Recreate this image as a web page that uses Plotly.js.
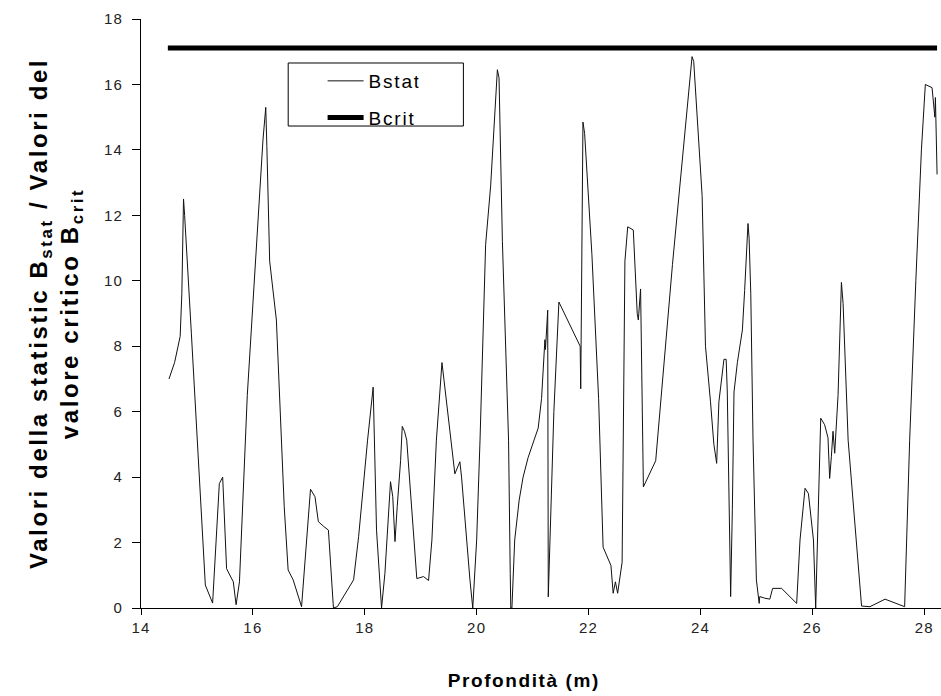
<!DOCTYPE html>
<html>
<head>
<meta charset="utf-8">
<script src="https://cdn.plot.ly/plotly-3.0.1.min.js"></script>
<style>
html,body{margin:0;padding:0;background:#fff;}
#chart{width:941px;height:696px;}
#chart .ytitle{letter-spacing:2.6px;}
#chart .xtitle{letter-spacing:1.6px;}
#chart .xtick text, #chart .ytick text{letter-spacing:1.2px;}
#chart .legendtext{letter-spacing:1.8px;}
</style>
</head>
<body>
<div id="chart"></div>
<script>
// Depth (m) for Bstat series
const depth = [14.50,14.60,14.70,14.73,14.76,14.78,14.90,15.06,15.15,15.28,15.40,15.46,15.53,15.65,15.70,15.76,15.90,16.18,16.23,16.25,16.30,16.42,16.51,16.56,16.63,16.72,16.87,17.03,17.11,17.17,17.26,17.35,17.44,17.51,17.80,17.87,17.89,18.05,18.15,18.21,18.30,18.36,18.44,18.46,18.50,18.54,18.58,18.64,18.67,18.71,18.75,18.93,19.05,19.14,19.20,19.28,19.38,19.47,19.55,19.61,19.70,19.73,19.88,19.93,20.00,20.06,20.16,20.25,20.37,20.40,20.46,20.57,20.60,20.61,20.63,20.68,20.76,20.83,20.92,21.10,21.16,21.22,21.23,21.27,21.28,21.38,21.47,21.85,21.86,21.90,21.93,22.06,22.18,22.26,22.40,22.44,22.48,22.52,22.60,22.65,22.70,22.80,22.87,22.89,22.93,22.98,23.20,23.50,23.85,23.88,24.03,24.09,24.18,24.24,24.29,24.33,24.42,24.46,24.48,24.54,24.57,24.60,24.66,24.75,24.79,24.85,24.87,24.90,24.94,25.00,25.05,25.06,25.15,25.24,25.29,25.45,25.72,25.78,25.87,25.93,26.02,26.06,26.15,26.22,26.28,26.31,26.34,26.37,26.40,26.46,26.52,26.55,26.64,26.88,27.03,27.30,27.65,27.74,27.85,27.95,28.02,28.14,28.19,28.20,28.23];
// Bstat values
const bstat = [7.0,7.5,8.3,9.6,12.5,12.0,8.4,3.6,0.7,0.15,3.8,4.0,1.2,0.8,0.1,0.8,6.5,14.3,15.3,14.1,10.6,8.8,5.1,3.1,1.16,0.86,0.04,3.63,3.4,2.64,2.5,2.38,0.0,0.04,0.86,1.9,2.18,5.13,6.75,2.38,0.0,1.06,3.1,3.86,3.4,2.03,3.1,4.5,5.55,5.4,5.13,0.9,0.96,0.84,2.08,5.13,7.5,6.2,5.13,4.1,4.47,4.0,0.86,0.0,2.08,5.13,11.1,12.9,16.45,16.2,11.2,5.13,1.06,0.0,0.0,2.08,3.3,4.0,4.6,5.5,6.4,8.2,7.9,9.1,0.34,6.0,9.35,8.0,6.7,14.85,14.5,10.8,6.4,1.86,1.3,0.45,0.8,0.45,1.4,10.6,11.65,11.55,9.0,8.8,9.75,3.7,4.5,10.5,16.85,16.7,12.6,8.0,6.3,5.0,4.42,6.3,7.6,7.6,6.6,0.35,3.0,6.6,7.5,8.5,9.7,11.75,11.3,9.6,5.13,0.86,0.14,0.35,0.3,0.27,0.6,0.6,0.14,2.08,3.66,3.5,2.08,0.0,5.8,5.6,5.2,3.96,4.62,5.4,4.73,6.5,9.95,9.3,5.13,0.06,0.04,0.27,0.04,5.13,10.0,14.0,16.0,15.9,15.0,15.6,13.25];
// Bcrit (critical value, constant)
const bcritDepth = [14.48, 28.23];
const bcrit = [17.11, 17.11];
const xTicks = [14,16,18,20,22,24,26,28];
const yTicks = [0,2,4,6,8,10,12,14,16,18];
const seriesNames = ['Bstat','Bcrit'];

const FONT = '"Liberation Sans", Arial, sans-serif';

const traces = [
  {x: depth, y: bstat, type: 'scatter', mode: 'lines', name: seriesNames[0], legendgroup: 'a',
   line: {color: '#111', width: 1}},
  {x: bcritDepth, y: bcrit, type: 'scatter', mode: 'lines', name: seriesNames[1], legendgroup: 'b',
   line: {color: '#000', width: 5}}
];

const layout = {
  width: 941, height: 696,
  margin: {l: 141, r: 0, t: 19, b: 88},
  paper_bgcolor: '#fff', plot_bgcolor: '#fff',
  font: {family: FONT, color: '#000'},
  showlegend: true,
  legend: {x: 0.227, y: 0.927, xanchor: 'left', yanchor: 'top', bgcolor: 'rgba(0,0,0,0)',
           borderwidth: 0, itemwidth: 36, font: {family: FONT, size: 19, color: '#000'}, tracegroupgap: 9},
  shapes: [{type: 'rect', xref: 'paper', yref: 'paper', x0: 0.184, x1: 0.403, y0: 0.8183, y1: 0.9253,
            line: {color: '#000', width: 1}, fillcolor: '#fff', layer: 'above'}],
  xaxis: {
    range: [14, 28.3], tickmode: 'array', tickvals: xTicks, ticktext: xTicks.map(String),
    showgrid: false, zeroline: false, showline: true, linecolor: '#000', linewidth: 1,
    ticks: 'outside', ticklen: 6, tickcolor: '#000', tickwidth: 1,
    tickfont: {family: FONT, size: 15, color: '#222'},
    title: {text: '<b>Profondità (m)</b>&nbsp;&nbsp;&nbsp;&nbsp;&nbsp;', font: {family: FONT, size: 19, color: '#000'}, standoff: 38}
  },
  yaxis: {
    range: [0, 18], tickmode: 'array', tickvals: yTicks, ticktext: yTicks.map(String),
    showgrid: false, zeroline: false, showline: true, linecolor: '#000', linewidth: 1,
    ticks: 'outside', ticklen: 8, tickcolor: '#000', tickwidth: 1,
    tickfont: {family: FONT, size: 15, color: '#222'}, ticklabelstandoff: 6,
    title: {text: '<b>Valori della statistic B<sub>stat</sub> / Valori del<br>valore critico B<sub>crit</sub></b>',
            font: {family: FONT, size: 24, color: '#000'}, standoff: 20}
  }
};

Plotly.newPlot('chart', traces, layout, {displayModeBar: false, staticPlot: true});
</script>
</body>
</html>
